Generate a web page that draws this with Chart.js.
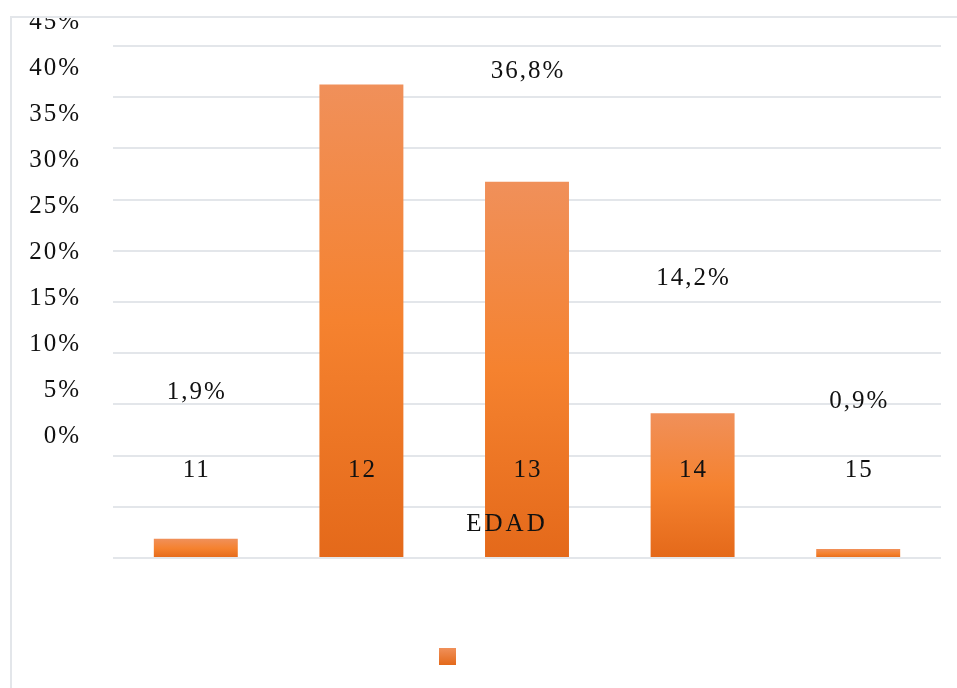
<!DOCTYPE html>
<html lang="es">
<head>
    <meta charset="utf-8">
    <title>EDAD</title>
    <style>
        html, body { margin: 0; padding: 0; background: #ffffff; overflow: hidden; }
        canvas { display: block; }
    </style>
    <script src="https://cdn.jsdelivr.net/npm/chart.js"></script>
</head>
<body>
<canvas id="edadChart" width="957" height="688"></canvas>
<script>
    // Data
    const categories = ['11', '12', '13', '14', '15'];
    const barValues = [1.5, 37.0, 29.4, 11.3, 0.7];
    const dataLabels = ['1,9%', '', '36,8%', '14,2%', '0,9%'];
    const yTickLabels = ['45%', '40%', '35%', '30%', '25%', '20%', '15%', '10%', '5%', '0%'];
    const axisTitle = 'EDAD';

    const textFont = '25px "Liberation Serif", "Times New Roman", serif';
    const textColor = '#111111';

    // gradient per bar, light on top, darker at the bottom
    function barGradient(ctx) {
        const chart = ctx.chart;
        const y = chart.scales.y;
        if (!y || ctx.raw === undefined) return '#f58232';
        const top = y.getPixelForValue(ctx.raw);
        const bottom = y.getPixelForValue(0);
        if (!isFinite(top) || !isFinite(bottom) || top === bottom) return '#f58232';
        const g = chart.ctx.createLinearGradient(0, top, 0, bottom);
        g.addColorStop(0, '#f0905a');
        g.addColorStop(0.5, '#f5822f');
        g.addColorStop(1, '#e4691a');
        return g;
    }

    const textPlugin = {
        id: 'textPlugin',
        beforeDraw(chart) {
            const c = chart.ctx;
            c.save();
            c.strokeStyle = '#e3e6ea';
            c.lineWidth = 2;
            c.beginPath();
            c.moveTo(11, 700);
            c.lineTo(11, 17);
            c.lineTo(960, 17);
            c.stroke();
            c.restore();
        },
        afterDatasetsDraw(chart) {
            const c = chart.ctx;
            const x = chart.scales.x;
            const y = chart.scales.y;
            c.save();
            c.font = textFont;
            c.fillStyle = textColor;
            c.letterSpacing = '2px';

            // y tick labels (shifted, as in the original), clipped by the frame
            c.save();
            c.beginPath();
            c.rect(12, 18, 945, 670);
            c.clip();
            c.textAlign = 'right';
            c.textBaseline = 'alphabetic';
            yTickLabels.forEach((t, i) => {
                c.fillText(t, 81, 29 + 46 * i);
            });
            c.restore();

            // data labels
            const labelAt = [12.4, 0, 37.5, 21.3, 11.7];
            c.textAlign = 'center';
            dataLabels.forEach((t, i) => {
                if (!t) return;
                c.fillText(t, x.getPixelForValue(i) + 1, y.getPixelForValue(labelAt[i]));
            });

            // category labels
            categories.forEach((t, i) => {
                c.fillText(t, x.getPixelForValue(i) + 1, 477);
            });

            // axis title
            c.letterSpacing = '3px';
            c.fillText(axisTitle, 507, 531);

            // legend marker (no text)
            const g = c.createLinearGradient(0, 648, 0, 665);
            g.addColorStop(0, '#f0905a');
            g.addColorStop(1, '#e4691a');
            c.fillStyle = g;
            c.fillRect(439, 648, 17, 17);
            c.restore();
        }
    };

    const ctx = document.getElementById('edadChart').getContext('2d');
    const edadChart = new Chart(ctx, {
        type: 'bar',
        data: {
            labels: categories,
            datasets: [{
                label: '',
                data: barValues,
                backgroundColor: barGradient,
                borderWidth: 0,
                categoryPercentage: 1,
                barPercentage: 0.507
            }]
        },
        options: {
            responsive: false,
            animation: false,
            layout: {
                padding: { left: 113, right: 16, top: 46, bottom: 130 }
            },
            plugins: {
                legend: { display: false },
                tooltip: { enabled: false }
            },
            scales: {
                x: {
                    grid: { display: false, drawTicks: false },
                    border: { display: false },
                    ticks: { display: false }
                },
                y: {
                    min: 0,
                    max: 40,
                    grid: { color: '#e3e6ea', lineWidth: 2, drawTicks: false },
                    border: { display: false },
                    ticks: { display: false, stepSize: 4 }
                }
            }
        },
        plugins: [textPlugin]
    });
</script>
</body>
</html>
